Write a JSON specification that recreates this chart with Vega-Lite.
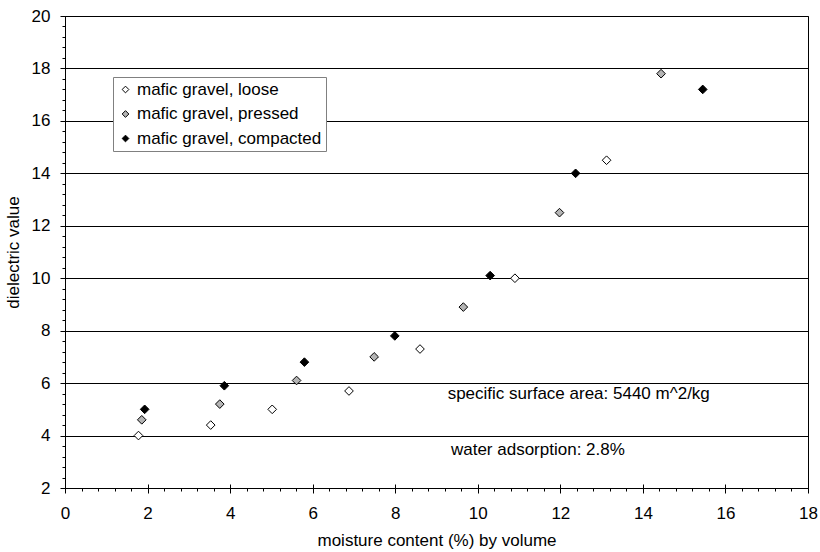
{
  "$schema": "https://vega.github.io/schema/vega-lite/v6.json",
  "width": 743,
  "height": 472,
  "autosize": {"type": "none"},
  "padding": {"left": 65, "top": 16, "right": 12, "bottom": 64},
  "background": "white",
  "config": {
    "view": {"stroke": "#000", "strokeWidth": 1},
    "font": "Liberation Sans",
    "axis": {"labelFont": "Liberation Sans", "titleFont": "Liberation Sans", "labelColor": "#000", "titleColor": "#000", "domainColor": "#000", "tickColor": "#000", "labelFontSize": 17, "titleFontSize": 17, "titleFontWeight": "normal", "labelFlush": false}
  },
  "data": {
    "values": [
      {"series": "mafic gravel, loose", "moisture": 1.78, "dielectric": 4.0},
      {"series": "mafic gravel, loose", "moisture": 3.53, "dielectric": 4.4},
      {"series": "mafic gravel, loose", "moisture": 5.02, "dielectric": 5.0},
      {"series": "mafic gravel, loose", "moisture": 6.88, "dielectric": 5.7},
      {"series": "mafic gravel, loose", "moisture": 8.6, "dielectric": 7.3},
      {"series": "mafic gravel, loose", "moisture": 10.9, "dielectric": 10.0},
      {"series": "mafic gravel, loose", "moisture": 13.12, "dielectric": 14.5},
      {"series": "mafic gravel, pressed", "moisture": 1.86, "dielectric": 4.6},
      {"series": "mafic gravel, pressed", "moisture": 3.75, "dielectric": 5.2},
      {"series": "mafic gravel, pressed", "moisture": 5.61, "dielectric": 6.1},
      {"series": "mafic gravel, pressed", "moisture": 7.49, "dielectric": 7.0},
      {"series": "mafic gravel, pressed", "moisture": 9.65, "dielectric": 8.9},
      {"series": "mafic gravel, pressed", "moisture": 11.98, "dielectric": 12.5},
      {"series": "mafic gravel, pressed", "moisture": 14.44, "dielectric": 17.8},
      {"series": "mafic gravel, compacted", "moisture": 1.93, "dielectric": 5.0},
      {"series": "mafic gravel, compacted", "moisture": 3.86, "dielectric": 5.9},
      {"series": "mafic gravel, compacted", "moisture": 5.8, "dielectric": 6.8},
      {"series": "mafic gravel, compacted", "moisture": 7.99, "dielectric": 7.8},
      {"series": "mafic gravel, compacted", "moisture": 10.3, "dielectric": 10.1},
      {"series": "mafic gravel, compacted", "moisture": 12.37, "dielectric": 14.0},
      {"series": "mafic gravel, compacted", "moisture": 15.45, "dielectric": 17.2}
    ]
  },
  "resolve": {"axis": {"x": "independent", "y": "independent"}},
  "layer": [
    {
      "mark": {"type": "point", "opacity": 0},
      "encoding": {
        "x": {"field": "moisture", "type": "quantitative", "scale": {"domain": [0, 18], "nice": false, "zero": false},
          "axis": {"orient": "bottom", "values": [0.4,0.8,1.2,1.6,2.4,2.8,3.2,3.6,4.4,4.8,5.2,5.6,6.4,6.8,7.2,7.6,8.4,8.8,9.2,9.6,10.4,10.8,11.2,11.6,12.4,12.8,13.2,13.6,14.4,14.8,15.2,15.6,16.4,16.8,17.2,17.6], "labels": false, "domain": false, "grid": false, "tickSize": 3, "title": null}},
        "y": {"field": "dielectric", "type": "quantitative", "scale": {"domain": [2, 20], "nice": false, "zero": false},
          "axis": {"orient": "left", "values": [2.4,2.8,3.2,3.6,4.4,4.8,5.2,5.6,6.4,6.8,7.2,7.6,8.4,8.8,9.2,9.6,10.4,10.8,11.2,11.6,12.4,12.8,13.2,13.6,14.4,14.8,15.2,15.6,16.4,16.8,17.2,17.6,18.4,18.8,19.2,19.6], "labels": false, "domain": false, "grid": false, "tickSize": 3, "title": null}}
      }
    },
    {
      "mark": {"type": "point", "opacity": 0},
      "encoding": {
        "x": {"field": "moisture", "type": "quantitative",
          "axis": {"orient": "bottom", "values": [0,2,4,6,8,10,12,14,16,18], "labels": false, "domain": false, "grid": false, "tickSize": -4, "title": null}},
        "y": {"field": "dielectric", "type": "quantitative",
          "axis": {"orient": "left", "values": [2,4,6,8,10,12,14,16,18,20], "labels": false, "domain": false, "grid": false, "tickSize": -4, "title": null}}
      }
    },
    {
      "mark": {"type": "point", "shape": "diamond", "filled": true, "size": 75, "stroke": "#000", "strokeWidth": 1, "opacity": 1},
      "encoding": {
        "x": {"field": "moisture", "type": "quantitative",
          "axis": {"orient": "bottom", "values": [0,2,4,6,8,10,12,14,16,18], "grid": false, "tickSize": 5, "labelPadding": 12, "title": "moisture content (%) by volume", "titlePadding": 11}},
        "y": {"field": "dielectric", "type": "quantitative",
          "axis": {"orient": "left", "values": [2,4,6,8,10,12,14,16,18,20], "grid": true, "gridColor": "#000", "gridOpacity": 1, "gridWidth": 1, "tickSize": 5, "labelPadding": 10, "title": "dielectric value", "titlePadding": 9}},
        "fill": {"field": "series", "type": "nominal",
          "scale": {"domain": ["mafic gravel, loose", "mafic gravel, pressed", "mafic gravel, compacted"], "range": ["#ffffff", "#b4b4b4", "#000000"]},
          "legend": {"title": null, "orient": "none", "legendX": 48, "legendY": 61, "fillColor": "#fff", "strokeColor": "#808080", "padding": 4, "rowPadding": 6.5, "labelFontSize": 17, "labelFont": "Liberation Sans", "labelColor": "#000", "labelLimit": 400, "symbolType": "diamond", "symbolSize": 45, "symbolStrokeColor": "#000", "symbolStrokeWidth": 1, "labelOffset": 3}}
      }
    },
    {
      "data": {"values": [{"label": "specific surface area: 5440 m^2/kg"}]},
      "mark": {"type": "text", "align": "left", "baseline": "middle", "fontSize": 17, "font": "Liberation Sans", "color": "#000"},
      "encoding": {
        "x": {"datum": 9.27, "type": "quantitative", "axis": null},
        "y": {"datum": 5.58, "type": "quantitative", "axis": null},
        "text": {"field": "label"}
      }
    },
    {
      "data": {"values": [{"label": "water adsorption: 2.8%"}]},
      "mark": {"type": "text", "align": "left", "baseline": "middle", "fontSize": 17, "font": "Liberation Sans", "color": "#000"},
      "encoding": {
        "x": {"datum": 9.35, "type": "quantitative", "axis": null},
        "y": {"datum": 3.45, "type": "quantitative", "axis": null},
        "text": {"field": "label"}
      }
    }
  ]
}
